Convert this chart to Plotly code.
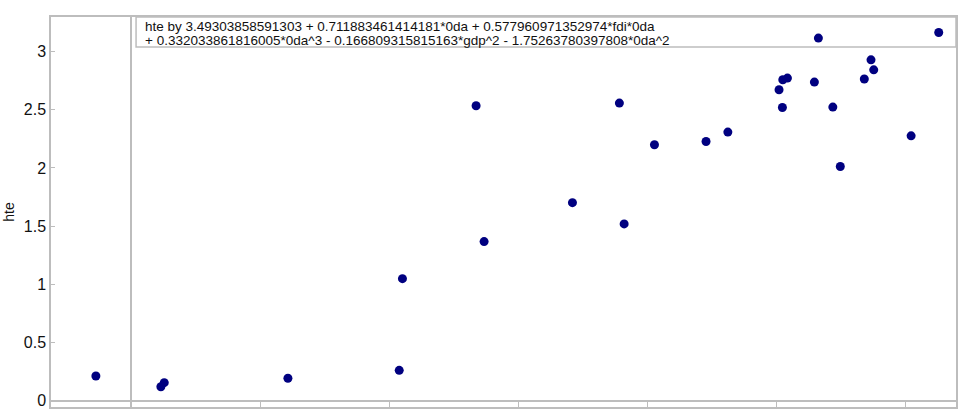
import plotly.graph_objects as go

# values (x in tick units, ticks unlabelled)
x_vals = [-0.274, 0.230, 0.256, 1.215, 2.078, 2.103, 2.674, 2.736, 3.421,
          3.785, 3.822, 4.057, 4.457, 4.626, 5.023, 5.049, 5.052, 5.088,
          5.328, 5.297, 5.440, 5.498, 5.684, 5.736, 5.757, 6.047, 6.261]
hte = [0.212, 0.120, 0.155, 0.193, 0.261, 1.049, 2.534, 1.367, 1.702,
       2.557, 1.519, 2.199, 2.227, 2.308, 2.672, 2.519, 2.758, 2.772,
       3.116, 2.738, 2.523, 2.012, 2.764, 2.929, 2.843, 2.276, 3.164]

y_ticks = [0, 0.5, 1, 1.5, 2, 2.5, 3]
y_tick_labels = ["0", "0.5", "1", "1.5", "2", "2.5", "3"]

eq_line1 = "hte by 3.49303858591303 + 0.711883461414181*0da + 0.577960971352974*fdi*0da"
eq_line2 = "+ 0.332033861816005*0da^3 - 0.166809315815163*gdp^2 - 1.75263780397808*0da^2"

frame_gray = "#bdbdbd"
text_font = dict(family="Liberation Sans, Arial", size=13.5, color="#111111")

fig = go.Figure()

fig.add_trace(go.Scatter(
    x=x_vals,
    y=hte,
    mode="markers",
    marker=dict(color="#000080", size=9, symbol="circle"),
    showlegend=False
))

# equation box at the top of the plot
fig.add_shape(type="rect", xref="paper", yref="paper",
              x0=0.094, x1=1, y0=0.923, y1=1,
              line=dict(color=frame_gray, width=1.5), fillcolor="white",
              layer="below")
fig.add_annotation(text=eq_line1, xref="paper", yref="paper",
                   x=0.102, y=0.9755, xanchor="left", yanchor="middle",
                   showarrow=False, font=text_font)
fig.add_annotation(text=eq_line2, xref="paper", yref="paper",
                   x=0.102, y=0.9395, xanchor="left", yanchor="middle",
                   showarrow=False, font=text_font)

fig.update_layout(
    width=959,
    height=418,
    margin=dict(l=51, r=3, t=17, b=11),
    plot_bgcolor="white",
    paper_bgcolor="white",
    font=dict(family="Liberation Sans, Arial", color="#111111"),
    xaxis=dict(
        range=[-0.622, 6.395],
        tick0=0, dtick=1,
        ticks="inside", ticklen=6, tickcolor=frame_gray,
        showticklabels=False,
        showgrid=False,
        zeroline=True, zerolinecolor=frame_gray, zerolinewidth=1.5,
        showline=True, mirror=True, linecolor=frame_gray, linewidth=1.5,
        automargin=False
    ),
    yaxis=dict(
        range=[-0.054, 3.297],
        tickvals=y_ticks, ticktext=y_tick_labels,
        ticks="inside", ticklen=4, tickcolor=frame_gray,
        tickfont=dict(size=16),
        showgrid=False,
        zeroline=True, zerolinecolor=frame_gray, zerolinewidth=1.5,
        showline=True, mirror=True, linecolor=frame_gray, linewidth=1.5,
        title=dict(text="hte", font=dict(size=14), standoff=6),
        automargin=False
    )
)

# drop the page's default body margin so the figure sits at the window corner
fig.write_html("out.html", config={"displayModeBar": False},
               post_script="document.body.style.margin='0';")
